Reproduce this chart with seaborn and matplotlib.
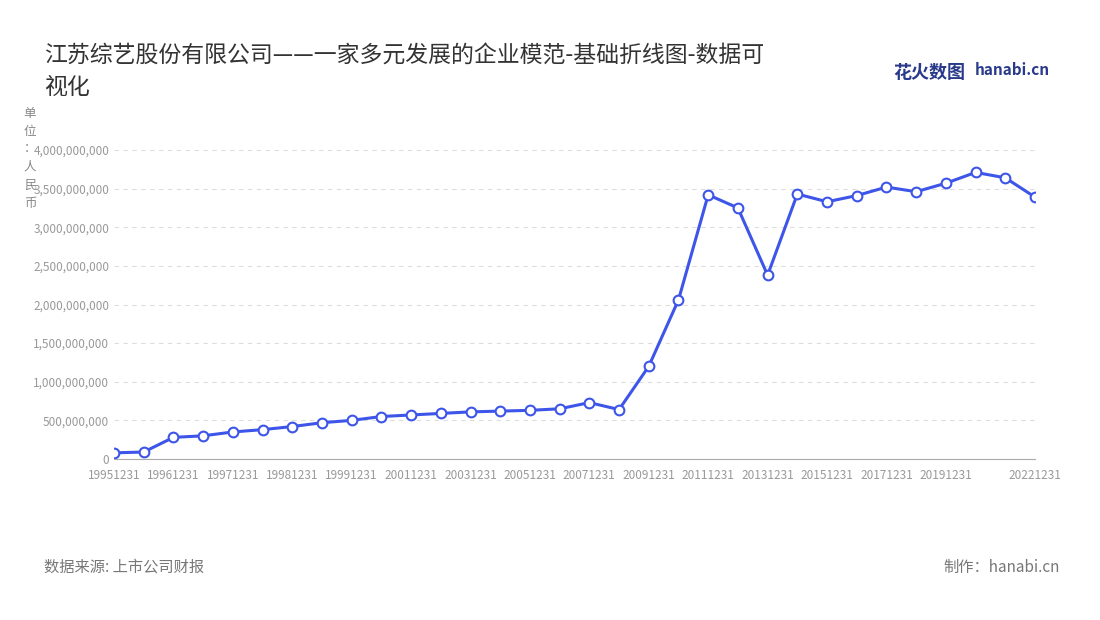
import matplotlib
matplotlib.use("Agg")
import matplotlib.pyplot as plt
import seaborn as sns
import pandas as pd
from matplotlib.ticker import FuncFormatter

sns.set_style("white")
plt.rcParams['font.family'] = ['Noto Sans CJK SC', 'DejaVu Sans']

dates = ["19951231","19960630","19961231","19970630","19971231","19980630","19981231","19990630",
         "19991231","20001231","20011231","20021231","20031231","20041231","20051231","20061231",
         "20071231","20081231","20091231","20101231","20111231","20121231","20131231","20141231",
         "20151231","20161231","20171231","20181231","20191231","20201231","20211231","20221231"]
values = [0.08,0.09,0.28,0.30,0.35,0.38,0.42,0.47,0.50,0.55,0.57,0.59,0.61,0.62,0.63,0.65,
          0.73,0.64,1.20,2.06,3.42,3.25,2.38,3.43,3.33,3.41,3.52,3.46,3.57,3.71,3.64,3.39]
values = [v*1e9 for v in values]
shown = set(range(0,31,2)) - {30} | {31}

df = pd.DataFrame({"i": range(len(dates)), "v": values})
fig = plt.figure(figsize=(11, 6.2), dpi=100)
ax = fig.add_axes([114/1100, 1-459/620, (1035-114)/1100, (459-150)/620])
sns.lineplot(data=df, x="i", y="v", ax=ax, color="#3d55e8", linewidth=2.2,
             marker="o", markersize=7, markerfacecolor="white", markeredgecolor="#3d55e8",
             markeredgewidth=1.5)
ax.set_xlim(0, len(dates)-1)
ax.set_ylim(0, 4e9)
ax.set_yticks([i*5e8 for i in range(9)])
ax.yaxis.set_major_formatter(FuncFormatter(lambda v, p: f"{int(v):,}"))
ax.set_xticks([i for i in range(len(dates)) if i in shown])
ax.set_xticklabels([dates[i] for i in range(len(dates)) if i in shown])
ax.tick_params(axis='both', labelsize=8.5, colors="#999999", length=4)
ax.tick_params(axis='y', length=0)
ax.grid(axis='y', linestyle=(0, (4, 4)), color="#dddddd")
for s in ["top", "right", "left"]:
    ax.spines[s].set_visible(False)
ax.spines["bottom"].set_color("#aaaaaa")
ax.set_xlabel(""); ax.set_ylabel("")

fig.text(44/1100, 1-55/620, "江苏综艺股份有限公司——一家多元发展的企业模范-基础折线图-数据可", fontsize=16.5, color="#333333", va="center")
fig.text(44/1100, 1-87/620, "视化", fontsize=16.5, color="#333333", va="center")
fig.text(30/1100, 1-158/620, "单\n位\n：\n人\n民\n币", fontsize=9, color="#888888", va="center", ha="center", linespacing=1.5)
fig.text(893/1100, 1-72/620, "花火数图", fontsize=13, color="#2a3a8a", fontweight="bold", va="center")
fig.text(975/1100, 1-70/620, "hanabi.cn", fontsize=11, color="#2a3a8a", fontweight="bold", va="center")
fig.text(44/1100, 1-567/620, "数据来源: 上市公司财报", fontsize=11, color="#777777", va="center")
fig.text(1060/1100, 1-567/620, "制作：hanabi.cn", fontsize=11, color="#777777", va="center", ha="right")
fig.savefig("out.png", dpi=100)
